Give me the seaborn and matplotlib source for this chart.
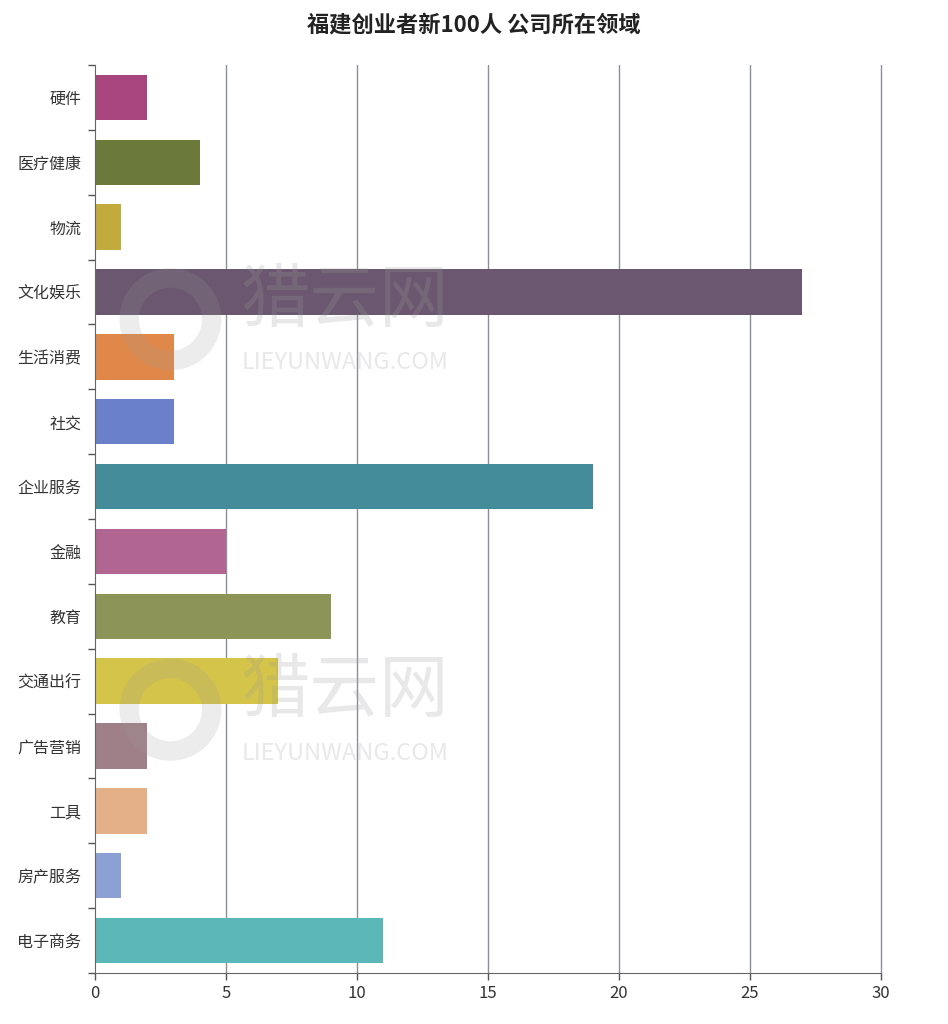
import matplotlib
matplotlib.use("Agg")

import matplotlib.pyplot as plt
from matplotlib.patches import Ellipse
import seaborn as sns
import pandas as pd
import numpy as np

# data
categories = [
    "硬件", "医疗健康", "物流", "文化娱乐", "生活消费", "社交", "企业服务",
    "金融", "教育", "交通出行", "广告营销", "工具", "房产服务", "电子商务"
]
counts = [2, 4, 1, 27, 3, 3, 19, 5, 9, 7, 2, 2, 1, 11]
colors = [
    "#a8457e", "#6b7a3a", "#c2aa3c", "#6b5870", "#e0884a", "#6a80c8", "#458c9a",
    "#b06592", "#8c9458", "#d4c44a", "#a08088", "#e4b088", "#8ca0d4", "#5cb8b8"
]
x_ticks = [0, 5, 10, 15, 20, 25, 30]

df = pd.DataFrame({"领域": categories, "数量": counts})

sns.set_style("white")
plt.rcParams["font.family"] = ["Noto Sans CJK SC", "DejaVu Sans"]

fig = plt.figure(figsize=(9.48, 10.24), dpi=100)
ax = fig.add_axes([0.1002, 0.0498, 0.829, 0.8867])

sns.barplot(
    data=df,
    x="数量",
    y="领域",
    hue="领域",
    palette=colors,
    orient="h",
    width=0.7,
    legend=False,
    ax=ax,
    saturation=1,
    edgecolor="none"
)

ax.set_xlim(0, 30)
ax.set_ylim(len(categories) - 0.5, -0.5)
ax.set_xticks(x_ticks)
ax.set_xlabel("")
ax.set_ylabel("")

# vertical grid lines
for t in x_ticks[1:]:
    ax.axvline(t, color="#8a8f99", linewidth=1, zorder=0, clip_on=False)

# category boundary ticks on the y axis
ax.set_yticks(np.arange(-0.5, len(categories), 1), minor=True)
ax.tick_params(axis="y", which="major", length=0, labelsize=11.5, colors="#333333", pad=10)
ax.tick_params(axis="y", which="minor", length=5, width=1, color="#555555", direction="out", left=True)
ax.tick_params(axis="x", which="major", length=5, width=1, color="#555555", labelsize=12, colors="#333333", bottom=True)

for side in ["top", "right"]:
    ax.spines[side].set_visible(False)
ax.spines["left"].set_color("#666666")
ax.spines["bottom"].set_color("#666666")

# watermarks
for wy in [0.74, 0.31]:
    ax.text(0.185, wy, "猎云网", transform=ax.transAxes, fontsize=50,
            color="#999999", alpha=0.22, ha="left", va="center", zorder=5)
    ax.text(0.187, wy - 0.068, "LIEYUNWANG.COM", transform=ax.transAxes, fontsize=17,
            color="#999999", alpha=0.22, ha="left", va="center", zorder=5)
    ring = Ellipse((0.096, wy - 0.02), 0.105, 0.091, transform=ax.transAxes, fill=False,
                   linewidth=14, edgecolor="#999999", alpha=0.18, zorder=5)
    ax.add_patch(ring)

fig.suptitle("福建创业者新100人 公司所在领域", fontsize=16, fontweight="bold",
             color="#222222", y=0.987)

plt.savefig("out.png", dpi=100)
plt.close()
